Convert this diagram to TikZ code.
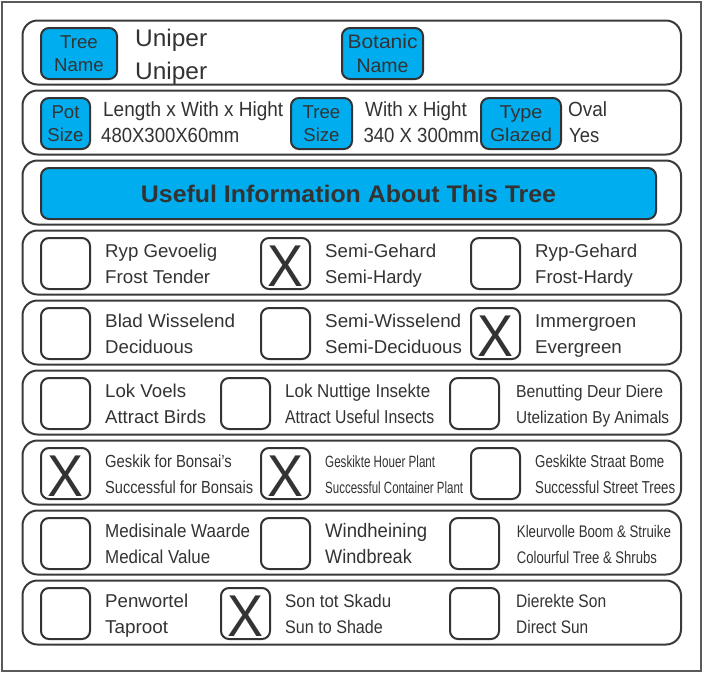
\documentclass[tikz,border=0pt]{standalone}
\usepackage{fontspec}
\usepackage{graphicx}
\setmainfont{Liberation Sans}
\definecolor{framegray}{HTML}{5A5A5A}
\definecolor{linegray}{HTML}{3A3A3A}
\definecolor{textgray}{HTML}{333333}
\definecolor{skyblue}{HTML}{00AEEF}
\newcommand\fw[2]{\resizebox{#1pt}{\height}{#2}}
\newcommand\fsz[1]{\fontsize{#1}{#1}\selectfont}
\newcommand\pairtxt[8]{%
  \node[txt, font=\fsz{#4}] (#1a) at (#2,#3+27) {\fw{#5}{#6}};
  \node[txt, font=\fsz{#4}] (#1b) at (#2,#3+53) {\fw{#7}{#8}};}
\tikzset{
  panel/.style={draw=linegray, line width=2pt, rounded corners=15pt},
  bluebox/.style={draw=textgray, fill=skyblue, line width=2pt, rounded corners=8pt, inner sep=0pt},
  checkbox/.style={draw=textgray, line width=2pt, rounded corners=8pt, minimum width=49pt, minimum height=51pt, inner sep=0pt},
  txt/.style={anchor=base west, inner sep=0pt, text=textgray},
  ctxt/.style={anchor=base, inner sep=0pt, text=textgray, font=\fsz{18.6}},
  xmark/.style={anchor=base, inner sep=0pt, text=textgray, font=\fsz{59}},
}
\begin{document}
\begin{tikzpicture}[x=1pt,y=-1pt]
\useasboundingbox (0,0) rectangle (703,673);
\fill[white] (0,0) rectangle (703,673);
\draw[framegray, line width=2pt] (2,2) rectangle (701,671);
% panels
\foreach \i in {0,...,8}{
  \draw[panel] (22.5,20.5+70*\i) rectangle (681,84.5+70*\i);
}
% row 1
\node[bluebox, minimum width=76pt, minimum height=51pt] (treename) at (79,53.5) {};
\node[ctxt] (treenameA) at (79,48.3) {Tree};
\node[ctxt] (treenameB) at (79,71.7) {Name};
\node[txt, font=\fsz{24}] (uniperA) at (135,46.5) {\fw{72}{Uniper}};
\node[txt, font=\fsz{24}] (uniperB) at (135,79) {\fw{72}{Uniper}};
\node[bluebox, minimum width=81pt, minimum height=51pt] (botanic) at (382.5,53.5) {};
\node[ctxt, font=\fsz{19.5}] (botanicA) at (382.5,48.8) {\fw{70}{Botanic}};
\node[ctxt, font=\fsz{19.5}] (botanicB) at (382.5,72.2) {\fw{52}{Name}};
% row 2
\node[bluebox, minimum width=49pt, minimum height=51pt] (potsize) at (65.5,123.5) {};
\node[ctxt] (potsizeA) at (65.5,118.3) {Pot};
\node[ctxt] (potsizeB) at (65.5,141.7) {Size};
\node[txt, font=\fsz{20.5}] (lwh) at (103,116.7) {\fw{180}{Length x With x Hight}};
\node[txt, font=\fsz{20.5}] (lwhval) at (101,142.7) {\fw{138}{480X300X60mm}};
\node[bluebox, minimum width=61pt, minimum height=51pt] (treesize) at (321.5,123.5) {};
\node[ctxt] (treesizeA) at (321.5,118.3) {Tree};
\node[ctxt] (treesizeB) at (321.5,141.7) {Size};
\node[txt, font=\fsz{20.5}] (wh) at (365,116.7) {\fw{101.7}{With x Hight}};
\node[txt, font=\fsz{20.5}] (whval) at (363.3,142.7) {\fw{115.7}{340 X 300mm}};
\node[bluebox, minimum width=80pt, minimum height=51pt] (typeglazed) at (521,123.5) {};
\node[ctxt] (typeglazedA) at (521,118.3) {\fw{43}{Type}};
\node[ctxt] (typeglazedB) at (521,141.7) {\fw{62}{Glazed}};
\node[txt, font=\fsz{20.5}] (oval) at (568,116.7) {\fw{39}{Oval}};
\node[txt, font=\fsz{20.5}] (yes) at (569,142.7) {\fw{30}{Yes}};
% row 3
\node[bluebox, minimum width=615pt, minimum height=51pt, text=textgray, font=\bfseries\fsz{24}] (banner) at (348.5,193.5) {\fw{415}{Useful Information About This Tree}};
% checkboxes
\foreach \r/\a/\b/\c in {3/261/471/ro4, 4/261/471/ro5, 5/221/450/ro6, 6/261/471/ro7, 7/261/450/ro8, 8/221/450/ro9}{
  \node[checkbox] (\c c1) at (65.5,20+70*\r+33.5) {};
  \node[checkbox] (\c c2) at (\a+24.5,20+70*\r+33.5) {};
  \node[checkbox] (\c c3) at (\b+24.5,20+70*\r+33.5) {};
}
% X marks
\node[xmark] (x4b) at (ro4c2.center) [yshift=-22.5pt] {\fw{36}{X}};
\node[xmark] (x5c) at (ro5c3.center) [yshift=-22.5pt] {\fw{36}{X}};
\node[xmark] (x7a) at (ro7c1.center) [yshift=-22.5pt] {\fw{36}{X}};
\node[xmark] (x7b) at (ro7c2.center) [yshift=-22.5pt] {\fw{36}{X}};
\node[xmark] (x9b) at (ro9c2.center) [yshift=-22.5pt] {\fw{36}{X}};
% row 4
\pairtxt{r4a}{105}{230}{18.6}{112}{Ryp Gevoelig}{105}{Frost Tender}
\pairtxt{r4b}{325}{230}{18.6}{111}{Semi-Gehard}{96.7}{Semi-Hardy}
\pairtxt{r4c}{535}{230}{18.6}{102}{Ryp-Gehard}{97.7}{Frost-Hardy}
% row 5
\pairtxt{r5a}{105}{300}{18.6}{130}{Blad Wisselend}{88}{Deciduous}
\pairtxt{r5b}{325}{300}{18.6}{136}{Semi-Wisselend}{136.7}{Semi-Deciduous}
\pairtxt{r5c}{535}{300}{18.6}{101}{Immergroen}{86.7}{Evergreen}
% row 6
\pairtxt{r6a}{105}{370}{18.6}{81}{Lok Voels}{101}{Attract Birds}
\pairtxt{r6b}{285}{370}{18.6}{145}{Lok Nuttige Insekte}{149}{Attract Useful Insects}
\pairtxt{r6c}{516}{370}{17.3}{147}{Benutting Deur Diere}{153}{Utelization By Animals}
% row 7
\pairtxt{r7a}{105}{440}{17.5}{126.7}{Geskik for Bonsai’s}{148}{Successful for Bonsais}
\pairtxt{r7b}{325}{440}{16.3}{110}{Geskikte Houer Plant}{138}{Successful Container Plant}
\pairtxt{r7c}{535}{440}{17.3}{129}{Geskikte Straat Bome}{140}{Successful Street Trees}
% row 8
\pairtxt{r8a}{105}{510}{18.7}{145}{Medisinale Waarde}{105}{Medical Value}
\pairtxt{r8b}{325}{510}{19.5}{102}{Windheining}{86.7}{Windbreak}
\pairtxt{r8c}{516.7}{510}{16.8}{154}{Kleurvolle Boom \& Struike}{140}{Colourful Tree \& Shrubs}
% row 9
\pairtxt{r9a}{105}{580}{18.6}{83}{Penwortel}{63}{Taproot}
\pairtxt{r9b}{285}{580}{18.2}{106}{Son tot Skadu}{97.7}{Sun to Shade}
\pairtxt{r9c}{516}{580}{18.2}{90}{Dierekte Son}{72}{Direct Sun}
\end{tikzpicture}
\end{document}
